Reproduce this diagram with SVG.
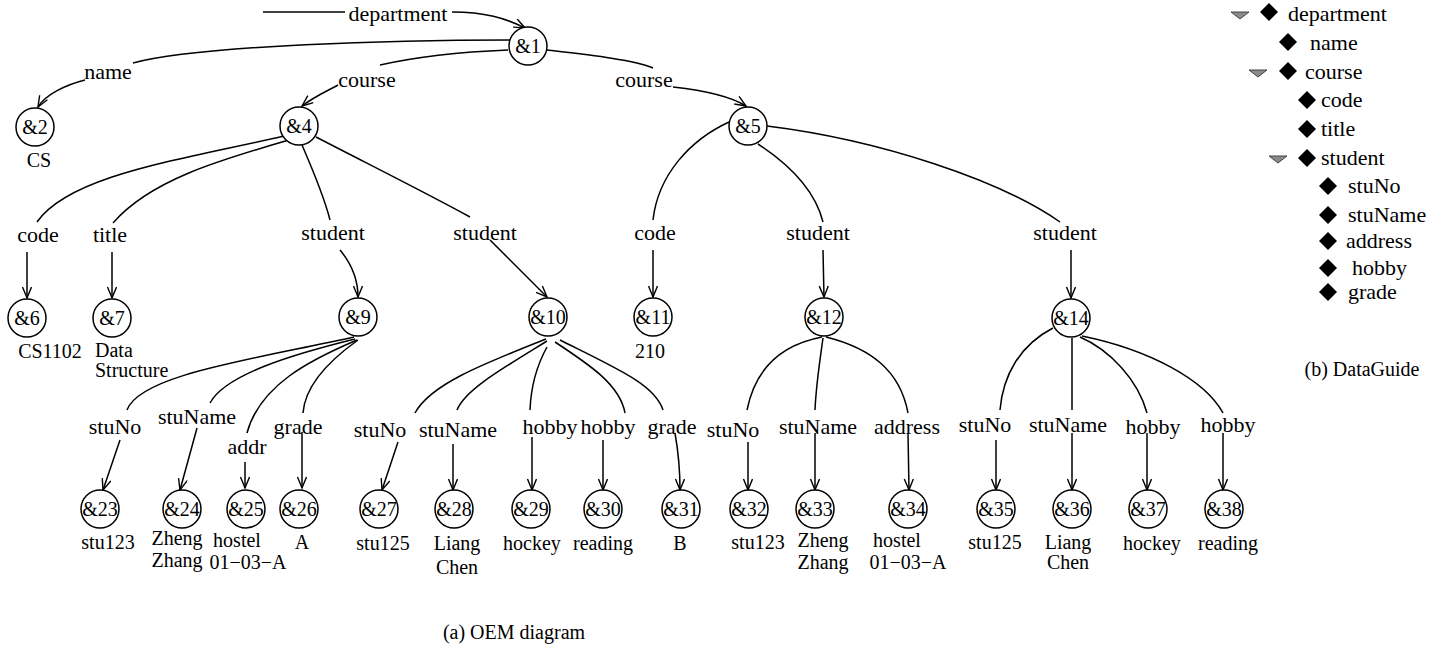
<svg xmlns="http://www.w3.org/2000/svg" width="1443" height="650" viewBox="0 0 1443 650">
<style>
text{font-family:"Liberation Serif","Times New Roman",serif;fill:#000}
.lb{font-size:22px;text-anchor:middle}
.v{font-size:20px;text-anchor:middle}
.vl{font-size:20px}
.id{font-size:20px;text-anchor:middle}
.n circle{fill:#fff;stroke:#000;stroke-width:1.5}
.c path{fill:none;stroke:#000;stroke-width:1.5}
.dg{font-size:22px}
.cap{font-size:20px;text-anchor:middle}
.dia{fill:#000}
.tri{fill:#8a8a8a;stroke:#444;stroke-width:1}
</style>
<defs>
<marker id="a" markerUnits="userSpaceOnUse" markerWidth="14" markerHeight="12" refX="12" refY="5" orient="auto">
<path d="M1,0.5 L12,5 L1,9.5" fill="none" stroke="#000" stroke-width="1.4"/>
</marker>
</defs>
<g class="c" id="connectors">
<path d="M263,12 L345,12"/>
<path d="M452,12 C485,12 505,18 525,28" marker-end="url(#a)"/>
<path d="M510,40 C400,40 200,45 133,63"/>
<path d="M85,80 C65,85 45,95 38,107" marker-end="url(#a)"/>
<path d="M508,50 C460,52 420,56 380,65"/>
<path d="M338,85 C325,92 312,98 302,106" marker-end="url(#a)"/>
<path d="M547,50 C590,55 635,60 653,68"/>
<path d="M673,87 C700,90 730,96 746,106" marker-end="url(#a)"/>
<path d="M284,136 C180,160 70,175 37,222"/>
<path d="M27,252 L27,298" marker-end="url(#a)"/>
<path d="M289,140 C220,160 150,180 113,223"/>
<path d="M112,252 L112,298" marker-end="url(#a)"/>
<path d="M302,145 C315,175 325,200 330,220"/>
<path d="M340,250 C350,262 358,278 358,297" marker-end="url(#a)"/>
<path d="M316,137 C380,170 430,195 470,217"/>
<path d="M490,240 L547,297" marker-end="url(#a)"/>
<path d="M729,122 C690,140 658,175 653,220"/>
<path d="M653,250 L653,297" marker-end="url(#a)"/>
<path d="M758,144 C790,165 815,190 823,222"/>
<path d="M823,250 L824,297" marker-end="url(#a)"/>
<path d="M767,126 C880,140 1000,180 1060,222"/>
<path d="M1071,250 L1071,298" marker-end="url(#a)"/>
<path d="M354,337 C250,360 140,375 127,410"/>
<path d="M120,440 L103,490" marker-end="url(#a)"/>
<path d="M355,339 C290,355 225,375 210,403"/>
<path d="M197,428 L180,490" marker-end="url(#a)"/>
<path d="M357,340 C310,360 260,385 247,433"/>
<path d="M245,462 L245,488" marker-end="url(#a)"/>
<path d="M358,340 C330,360 305,385 303,413"/>
<path d="M302,432 L302,488" marker-end="url(#a)"/>
<path d="M546,339 C480,365 430,385 415,413"/>
<path d="M398,442 L382,490" marker-end="url(#a)"/>
<path d="M547,341 C500,370 465,390 457,410"/>
<path d="M453,444 L453,490" marker-end="url(#a)"/>
<path d="M547,347 C537,365 531,385 530,410"/>
<path d="M532,437 L532,490" marker-end="url(#a)"/>
<path d="M555,342 C590,365 620,385 625,413"/>
<path d="M603,440 L603,490" marker-end="url(#a)"/>
<path d="M560,340 C620,370 655,385 663,410"/>
<path d="M675,433 C678,450 680,470 680,490" marker-end="url(#a)"/>
<path d="M822,337 C780,345 755,370 747,410"/>
<path d="M748,442 L748,490" marker-end="url(#a)"/>
<path d="M823,338 C820,360 816,385 815,410"/>
<path d="M815,433 L815,490" marker-end="url(#a)"/>
<path d="M826,337 C870,348 900,370 908,413"/>
<path d="M908,433 L909,490" marker-end="url(#a)"/>
<path d="M1053,328 C1020,345 1003,375 1000,410"/>
<path d="M996,440 L996,490" marker-end="url(#a)"/>
<path d="M1072,338 L1072,410"/>
<path d="M1072,433 L1072,490" marker-end="url(#a)"/>
<path d="M1080,337 C1110,350 1138,380 1147,413"/>
<path d="M1147,433 L1147,490" marker-end="url(#a)"/>
<path d="M1082,336 C1150,350 1205,380 1223,413"/>
<path d="M1223,433 L1223,490" marker-end="url(#a)"/>
</g>
<g id="edge-labels">
<text class="lb" x="398" y="21">department</text>
<text class="lb" x="108" y="79">name</text>
<text class="lb" x="367" y="87">course</text>
<text class="lb" x="644" y="87">course</text>
<text class="lb" x="38" y="242">code</text>
<text class="lb" x="110" y="242">title</text>
<text class="lb" x="333" y="240">student</text>
<text class="lb" x="485" y="240">student</text>
<text class="lb" x="655" y="240">code</text>
<text class="lb" x="818" y="240">student</text>
<text class="lb" x="1065" y="240">student</text>
<text class="lb" x="115" y="434">stuNo</text>
<text class="lb" x="197" y="424">stuName</text>
<text class="lb" x="247" y="454">addr</text>
<text class="lb" x="298" y="434">grade</text>
<text class="lb" x="380" y="437">stuNo</text>
<text class="lb" x="458" y="437">stuName</text>
<text class="lb" x="550" y="434">hobby</text>
<text class="lb" x="608" y="434">hobby</text>
<text class="lb" x="672" y="434">grade</text>
<text class="lb" x="733" y="437">stuNo</text>
<text class="lb" x="818" y="434">stuName</text>
<text class="lb" x="907" y="434">address</text>
<text class="lb" x="985" y="432">stuNo</text>
<text class="lb" x="1068" y="432">stuName</text>
<text class="lb" x="1153" y="434">hobby</text>
<text class="lb" x="1228" y="432">hobby</text>
</g>
<g class="n" id="n1"><circle cx="528" cy="46" r="19"/><text class="id" x="528" y="53">&amp;1</text></g>
<g class="n" id="n2"><circle cx="35" cy="127" r="19"/><text class="id" x="35" y="134">&amp;2</text><text class="v" x="39" y="167">CS</text></g>
<g class="n" id="n4"><circle cx="299" cy="126" r="19"/><text class="id" x="299" y="133">&amp;4</text></g>
<g class="n" id="n5"><circle cx="748" cy="126" r="19"/><text class="id" x="748" y="133">&amp;5</text></g>
<g class="n" id="n6"><circle cx="27" cy="318" r="19"/><text class="id" x="27" y="325">&amp;6</text><text class="v" x="50" y="358">CS1102</text></g>
<g class="n" id="n7"><circle cx="112" cy="318" r="19"/><text class="id" x="112" y="325">&amp;7</text><text class="vl" x="95" y="357">Data</text><text class="vl" x="95" y="377">Structure</text></g>
<g class="n" id="n9"><circle cx="358" cy="317" r="19"/><text class="id" x="358" y="324">&amp;9</text></g>
<g class="n" id="n10"><circle cx="548" cy="317" r="19"/><text class="id" x="548" y="324">&amp;10</text></g>
<g class="n" id="n11"><circle cx="653" cy="317" r="19"/><text class="id" x="653" y="324">&amp;11</text><text class="v" x="650" y="358">210</text></g>
<g class="n" id="n12"><circle cx="824" cy="317" r="19"/><text class="id" x="824" y="324">&amp;12</text></g>
<g class="n" id="n14"><circle cx="1071" cy="318" r="19"/><text class="id" x="1071" y="325">&amp;14</text></g>
<g class="n" id="n23"><circle cx="100" cy="509" r="19"/><text class="id" x="100" y="516">&amp;23</text><text class="v" x="108" y="549">stu123</text></g>
<g class="n" id="n24"><circle cx="182" cy="509" r="19"/><text class="id" x="182" y="516">&amp;24</text><text class="v" x="177" y="545">Zheng</text><text class="v" x="177" y="567">Zhang</text></g>
<g class="n" id="n25"><circle cx="246" cy="509" r="19"/><text class="id" x="246" y="516">&amp;25</text><text class="v" x="237" y="547">hostel</text><text class="v" x="248" y="569">01−03−A</text></g>
<g class="n" id="n26"><circle cx="299" cy="509" r="19"/><text class="id" x="299" y="516">&amp;26</text><text class="v" x="302" y="549">A</text></g>
<g class="n" id="n27"><circle cx="379" cy="509" r="19"/><text class="id" x="379" y="516">&amp;27</text><text class="v" x="383" y="550">stu125</text></g>
<g class="n" id="n28"><circle cx="454" cy="509" r="19"/><text class="id" x="454" y="516">&amp;28</text><text class="v" x="457" y="550">Liang</text><text class="v" x="457" y="574">Chen</text></g>
<g class="n" id="n29"><circle cx="531" cy="509" r="19"/><text class="id" x="531" y="516">&amp;29</text><text class="v" x="532" y="550">hockey</text></g>
<g class="n" id="n30"><circle cx="603" cy="509" r="19"/><text class="id" x="603" y="516">&amp;30</text><text class="v" x="603" y="550">reading</text></g>
<g class="n" id="n31"><circle cx="681" cy="509" r="19"/><text class="id" x="681" y="516">&amp;31</text><text class="v" x="680" y="550">B</text></g>
<g class="n" id="n32"><circle cx="749" cy="509" r="19"/><text class="id" x="749" y="516">&amp;32</text><text class="v" x="758" y="549">stu123</text></g>
<g class="n" id="n33"><circle cx="815" cy="509" r="19"/><text class="id" x="815" y="516">&amp;33</text><text class="v" x="823" y="547">Zheng</text><text class="v" x="823" y="569">Zhang</text></g>
<g class="n" id="n34"><circle cx="908" cy="509" r="19"/><text class="id" x="908" y="516">&amp;34</text><text class="v" x="897" y="547">hostel</text><text class="v" x="908" y="569">01−03−A</text></g>
<g class="n" id="n35"><circle cx="996" cy="509" r="19"/><text class="id" x="996" y="516">&amp;35</text><text class="v" x="995" y="549">stu125</text></g>
<g class="n" id="n36"><circle cx="1072" cy="509" r="19"/><text class="id" x="1072" y="516">&amp;36</text><text class="v" x="1068" y="549">Liang</text><text class="v" x="1068" y="569">Chen</text></g>
<g class="n" id="n37"><circle cx="1148" cy="509" r="19"/><text class="id" x="1148" y="516">&amp;37</text><text class="v" x="1152" y="550">hockey</text></g>
<g class="n" id="n38"><circle cx="1224" cy="509" r="19"/><text class="id" x="1224" y="516">&amp;38</text><text class="v" x="1228" y="550">reading</text></g>
<g id="dataguide">
<path class="tri" d="M1231,12 L1249,12 L1240,19 Z"/>
<path class="dia" d="M1269,3 L1278,12 L1269,21 L1260,12 Z"/>
<text class="dg" x="1288" y="21">department</text>
<path class="dia" d="M1288,33 L1297,42 L1288,51 L1279,42 Z"/>
<text class="dg" x="1310" y="50">name</text>
<path class="tri" d="M1249,70 L1267,70 L1258,77 Z"/>
<path class="dia" d="M1288,62 L1297,71 L1288,80 L1279,71 Z"/>
<text class="dg" x="1305" y="79">course</text>
<path class="dia" d="M1307,91 L1316,100 L1307,109 L1298,100 Z"/>
<text class="dg" x="1321" y="107">code</text>
<path class="dia" d="M1307,120 L1316,129 L1307,138 L1298,129 Z"/>
<text class="dg" x="1321" y="136">title</text>
<path class="tri" d="M1269,156 L1287,156 L1278,163 Z"/>
<path class="dia" d="M1307,149 L1316,158 L1307,167 L1298,158 Z"/>
<text class="dg" x="1321" y="165">student</text>
<path class="dia" d="M1328,177 L1337,186 L1328,195 L1319,186 Z"/>
<text class="dg" x="1348" y="193">stuNo</text>
<path class="dia" d="M1328,206 L1337,215 L1328,224 L1319,215 Z"/>
<text class="dg" x="1348" y="222">stuName</text>
<path class="dia" d="M1328,232 L1337,241 L1328,250 L1319,241 Z"/>
<text class="dg" x="1346" y="248">address</text>
<path class="dia" d="M1328,259 L1337,268 L1328,277 L1319,268 Z"/>
<text class="dg" x="1352" y="275">hobby</text>
<path class="dia" d="M1328,283 L1337,292 L1328,301 L1319,292 Z"/>
<text class="dg" x="1348" y="299">grade</text>
</g>
<g id="captions">
<text class="cap" x="1362" y="376">(b) DataGuide</text>
<text class="cap" x="514" y="639">(a) OEM diagram</text>
</g>
</svg>
